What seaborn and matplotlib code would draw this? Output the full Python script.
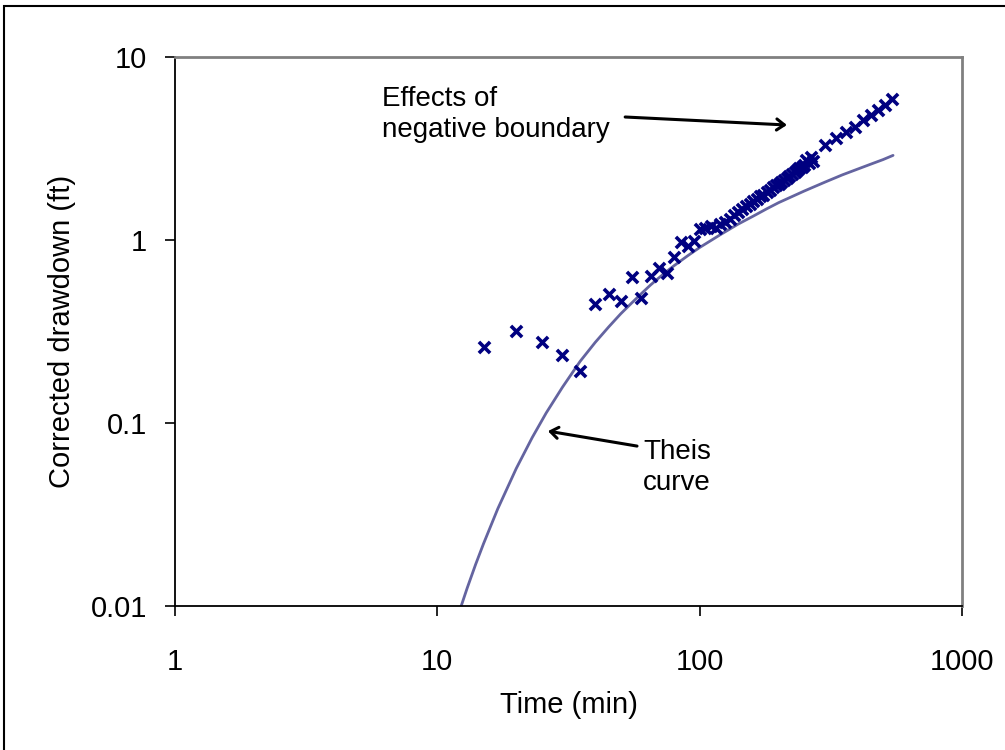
import numpy as np
import matplotlib
matplotlib.use("Agg")
import matplotlib.pyplot as plt
import seaborn as sns
from matplotlib.patches import Rectangle

# Observed (corrected) drawdown vs time
time_obs = [15, 20, 25, 30, 35, 40, 45, 50, 55, 60, 65, 70, 75, 80, 85, 90, 95, 100,
            105, 110, 115, 120, 125, 130, 135, 140, 145, 150, 155, 160, 165, 170,
            175, 180, 185, 190, 195, 200, 205, 210, 215, 220, 225, 230, 235, 240,
            245, 250, 255, 260, 265, 270,
            300, 330, 360, 390, 420, 450, 480, 510, 540]
drawdown_obs = [0.26, 0.318, 0.277, 0.235, 0.192, 0.447, 0.507, 0.464, 0.628, 0.482,
                0.636, 0.703, 0.66, 0.81, 0.975, 0.93, 0.99, 1.15,
                1.17, 1.19, 1.16, 1.22, 1.26, 1.30, 1.37, 1.42, 1.47, 1.54, 1.58,
                1.63, 1.68, 1.73, 1.77, 1.83, 1.88, 1.94, 1.99, 2.03, 2.08, 2.14,
                2.19, 2.24, 2.30, 2.36, 2.42, 2.46, 2.52, 2.57, 2.72, 2.62, 2.85, 2.70,
                3.30, 3.61, 3.89, 4.14, 4.53, 4.82, 5.13, 5.47, 5.89]

# Theis type curve
time_theis = [12.3, 13, 14, 15, 17, 20, 23, 26, 30, 35, 40, 45, 50, 55, 60, 65, 70,
              75, 80, 90, 100, 120, 140, 160, 180, 200, 250, 300, 350, 400, 450,
              500, 546]
drawdown_theis = [0.0099, 0.01255, 0.0169, 0.0219, 0.034, 0.0565, 0.0833, 0.1135,
                  0.157, 0.217, 0.276, 0.335, 0.395, 0.452, 0.510, 0.568, 0.622,
                  0.675, 0.725, 0.82, 0.91, 1.07, 1.22, 1.35, 1.48, 1.60, 1.85, 2.07,
                  2.27, 2.44, 2.60, 2.75, 2.90]

x_ticks = [1, 10, 100, 1000]
x_tick_labels = ["1", "10", "100", "1000"]
y_ticks = [0.01, 0.1, 1, 10]
y_tick_labels = ["0.01", "0.1", "1", "10"]

sns.set_style("white")
plt.rcParams["font.family"] = ["Liberation Sans", "DejaVu Sans"]
plt.rcParams["text.color"] = "black"
plt.rcParams["axes.labelcolor"] = "black"
plt.rcParams["xtick.color"] = "black"
plt.rcParams["ytick.color"] = "black"

fig = plt.figure(figsize=(10.05, 7.5), dpi=100)
ax = fig.add_axes([175 / 1005, 1 - 606 / 750, 787 / 1005, 549 / 750])

sns.lineplot(x=time_theis, y=drawdown_theis, ax=ax, color="#6464a0", linewidth=2.0,
             sort=False, estimator=None, zorder=2)
sns.scatterplot(x=time_obs, y=drawdown_obs, ax=ax, marker="x", color="#000080",
                s=65, linewidth=2.6, zorder=3)

ax.set_xscale("log")
ax.set_yscale("log")
ax.set_xlim(1, 1000)
ax.set_ylim(0.01, 10)
ax.set_xticks(x_ticks)
ax.set_xticklabels(x_tick_labels)
ax.set_yticks(y_ticks)
ax.set_yticklabels(y_tick_labels)
ax.minorticks_off()
ax.tick_params(axis="both", labelsize=21, direction="out", length=7, width=1.2,
               color="black", labelcolor="black", left=True, bottom=True)
ax.tick_params(axis="y", pad=13)
ax.tick_params(axis="x", pad=23)

for side in ["top", "right"]:
    ax.spines[side].set_color("#808080")
    ax.spines[side].set_linewidth(2)
for side in ["left", "bottom"]:
    ax.spines[side].set_color("black")
    ax.spines[side].set_linewidth(1.3)

ax.set_xlabel("Time (min)", fontsize=21, va="center", color="black")
ax.set_ylabel("Corrected drawdown (ft)", fontsize=21, va="center", color="black")
ax.xaxis.set_label_coords(0.5, (606 - 705) / 549)
ax.yaxis.set_label_coords((62 - 175) / 787, 0.5)

# Annotations
arrow = dict(arrowstyle="->,head_length=0.55,head_width=0.4", lw=2.2, color="black",
             shrinkA=0, shrinkB=0)
ax.text(6.15, 4.85, "Effects of\nnegative boundary", fontsize=20, ha="left",
        va="center", linespacing=1.25, color="black")
ax.annotate("", xy=(215, 4.25), xytext=(52, 4.70), arrowprops=arrow)
ax.text(60.9, 0.0571, "Theis\ncurve", fontsize=20, ha="left", va="center",
        linespacing=1.25, color="black")
ax.annotate("", xy=(26.4, 0.0903), xytext=(57.7, 0.0748), arrowprops=arrow)

# Outer chart border (cut off at right and bottom)
fig.patches.append(Rectangle((4 / 1005, -0.1), 1.2, 1 - 6 / 750 + 0.1,
                             transform=fig.transFigure, fill=False,
                             edgecolor="black", linewidth=1.5))

fig.savefig("out.png", dpi=100)
